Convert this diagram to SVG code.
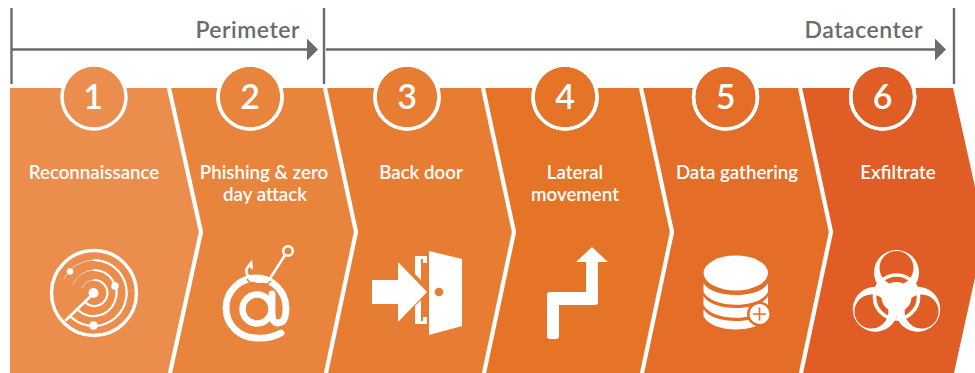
<svg xmlns="http://www.w3.org/2000/svg" width="975" height="373" viewBox="0 0 975 373">
<style>
.lbl{font-family:Lato,"Liberation Sans",sans-serif;font-weight:600;font-size:18.7px;fill:#fff;text-anchor:middle}
.num{font-family:Lato,"Liberation Sans",sans-serif;font-weight:600;font-size:34px;fill:#fff;text-anchor:middle}
.hdr{font-family:Lato,"Liberation Sans",sans-serif;font-weight:600;font-size:23px;fill:#6b6b6b;text-anchor:end;letter-spacing:.5px}
.bar{stroke:#6b6b6b;stroke-width:2.4;fill:none}
.sep{stroke:#fff;stroke-width:4.2;fill:none;stroke-linejoin:round}
.badge{stroke:#fff;stroke-width:3.5}
.w{fill:#fff}
.ws{fill:none;stroke:#fff;stroke-linecap:round}
</style>
<defs>
<marker id="ah" markerUnits="userSpaceOnUse" markerWidth="12" markerHeight="22" refX="0" refY="11" orient="auto"><path d="M0 0L11 11L0 22Z" fill="#6b6b6b"/></marker>
<mask id="cm" maskUnits="userSpaceOnUse" x="840" y="240" width="110" height="100"><rect x="840" y="240" width="110" height="100" fill="#fff"/><circle cx="896.5" cy="268" r="17" fill="#000"/></mask>
</defs>
<g id="connectors">
<path class="bar" d="M11.5 8V84M324 8V84M954 8V84"/>
<path class="bar" d="M11.5 49.5H307" marker-end="url(#ah)"/>
<path class="bar" d="M326 49.5H935" marker-end="url(#ah)"/>
<text class="hdr" x="300" y="38">Perimeter</text>
<text class="hdr" x="923" y="38">Datacenter</text>
</g>
<g id="step1">
<path fill="#eb8d4c" d="M10 88H170L202 232L171 373H10Z"/>
<circle class="badge" cx="94" cy="97" r="32" fill="#eb8d4c"/>
<text class="num" x="93" y="109">1</text>
<text class="lbl" x="94" y="179">Reconnaissance</text>
<g class="ws">
<circle cx="94" cy="293" r="42.5" stroke-width="3.4"/>
<path stroke-width="2.8" d="M66 320L94 293"/>
<path stroke-width="2.2" d="M94 260A33 33 0 1 1 71 317"/>
<path stroke-width=".9" opacity=".7" d="M94 260A33 33 0 0 0 64 279"/>
<path stroke-width="2.2" d="M94 270A23 23 0 1 1 78 310"/>
<path stroke-width=".9" opacity=".7" d="M94 270A23 23 0 0 0 73 284"/>
<path stroke-width="2.2" d="M94 280A13 13 0 1 1 85 302"/>
<path stroke-width=".9" opacity=".7" d="M94 280A13 13 0 0 0 82 288"/>
</g>
<circle class="w" cx="93.500" cy="293" r="5"/><circle class="w" cx="70" cy="271.500" r="3.200"/><circle class="w" cx="115" cy="286" r="3.800"/><circle class="w" cx="93.500" cy="325.500" r="4.300"/>
</g>
<g id="step2">
<path fill="#e9843d" d="M170 88H326L357 232L327 373H171L202 232Z"/>
<circle class="badge" cx="250" cy="97" r="32" fill="#e9843d"/>
<text class="num" x="250" y="109">2</text>
<text class="lbl" x="264" y="179">Phishing &amp; zero</text>
<text class="lbl" x="265" y="201">day attack</text>
<g class="ws">
<path stroke-width="6.800" d="M281 333Q270 339 256 338A30 30 0 1 1 286 308C286 318 283 323 278 323C273 323 272 319 272 312L272 294"/>
<circle cx="257" cy="309" r="14.500" stroke-width="6.400"/>
<circle cx="288" cy="251" r="4.800" stroke-width="2.600"/>
<path stroke-width="2.600" d="M285 255L271 277C264 285 250 282 247 274C245 269 248 267 251 263"/>
</g>
<path d="M271 281C264 288 252 287 247 279" fill="none" style="stroke:#e9843d;stroke-width:1.600"/>
<path class="w" d="M252 259L253 270L248 266Z"/>
</g>
<g id="step3">
<path fill="#e77d33" d="M326 88H484L515 232L485 373H327L357 232Z"/>
<circle class="badge" cx="407" cy="97" r="32" fill="#e77d33"/>
<text class="num" x="407" y="109">3</text>
<text class="lbl" x="421" y="179">Back door</text>
<path class="w" d="M372 280H398V262L427 292L398 322V304H372Z"/>
<path class="w" d="M415 256H427V263H423V259H421V280L415 274Z"/>
<path class="w" d="M415 328V310L421 304V325H423V321H427V328Z" transform="translate(0 -4)"/>
<path class="w" d="M429 251L462 259V326L429 335Z"/>
<circle cx="439" cy="292" r="4.300" fill="#e77d33"/>
</g>
<g id="step4">
<path fill="#e57427" d="M484 88H642L673 232L643 373H485L515 232Z"/>
<circle class="badge" cx="565" cy="97" r="32" fill="#e57427"/>
<text class="num" x="565" y="109">4</text>
<text class="lbl" x="575" y="179">Lateral</text>
<text class="lbl" x="575" y="201">movement</text>
<path class="w" d="M592 247L608 262H598V302Q598 305 595 305H559V336Q559 339 556 339H550Q547 339 547 336V295Q547 292 550 292H586V262H576Z"/>
</g>
<g id="step5">
<path fill="#e46d27" d="M642 88H801L832 232L802 373H643L673 232Z"/>
<circle class="badge" cx="725.500" cy="97" r="32" fill="#e46d27"/>
<text class="num" x="725.500" y="109">5</text>
<text class="lbl" x="737" y="179">Data gathering</text>
<ellipse class="w" cx="735.800" cy="273" rx="32.200" ry="17.500"/>
<path class="w" d="M703.500 283C712 299 760 299 768 283V292C760 309 712 309 703.500 292Z"/>
<path class="w" d="M703.500 296C712 312 760 312 768 296V305C760 322 712 322 703.500 305Z"/>
<path class="w" d="M703.500 309C712 325 760 325 768 309V316C760 334 712 334 703.500 316Z"/>
<circle cx="759.500" cy="314" r="12.500" fill="#e46d27"/>
<circle class="w" cx="759.500" cy="314" r="10"/>
<path d="M759.500 307.500V320.500M753 314H766" stroke="#e46d27" stroke-width="1.600" fill="none"/>
</g>
<g id="step6">
<path fill="#e05e25" d="M801 88H953L985 232L954 373H802L832 232Z"/>
<circle class="badge" cx="882.700" cy="97" r="32" fill="#e05e25"/>
<text class="num" x="882.700" y="109">6</text>
<text class="lbl" x="898" y="179">Exfiltrate</text>
<circle class="w" cx="896.500" cy="297" r="15"/>
<circle cx="896.500" cy="297" r="22" fill="none" stroke="#fff" stroke-width="3.600"/>
<g mask="url(#cm)"><circle class="w" cx="896.500" cy="272.500" r="22.500"/></g>
<g transform="rotate(120 896.500 297)" mask="url(#cm)"><circle class="w" cx="896.500" cy="272.500" r="22.500"/></g>
<g transform="rotate(240 896.500 297)" mask="url(#cm)"><circle class="w" cx="896.500" cy="272.500" r="22.500"/></g>
</g>
<g id="separators">
<path class="sep" d="M169 88L201 232L170 373"/>
<path class="sep" d="M325 88L356 232L326 373"/>
<path class="sep" d="M483 88L514 232L484 373"/>
<path class="sep" d="M641 88L672 232L642 373"/>
<path class="sep" d="M800 88L831 232L801 373"/>
</g>
<g id="badges-top">
<circle class="badge" cx="250" cy="97" r="32" fill="none"/>
<circle class="badge" cx="407" cy="97" r="32" fill="none"/>
<circle class="badge" cx="565" cy="97" r="32" fill="none"/>
<circle class="badge" cx="725.500" cy="97" r="32" fill="none"/>
<circle class="badge" cx="882.700" cy="97" r="32" fill="none"/>
</g>
</svg>
